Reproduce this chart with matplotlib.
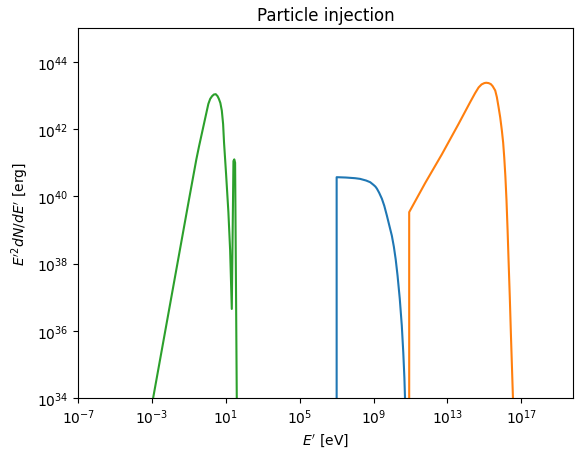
import numpy as np
import matplotlib
matplotlib.use("Agg")
import matplotlib.pyplot as plt

# log10 values
blue_logE = [7.0, 7.0, 7.5, 8.0, 8.27, 8.6, 8.82, 9.0, 9.1, 9.18, 9.3, 9.45, 9.58, 9.72, 9.85, 9.99, 10.1, 10.2, 10.30, 10.42, 10.53, 10.61, 10.67, 10.72]
blue_logY = [30.0, 40.57, 40.56, 40.54, 40.52, 40.47, 40.42, 40.34, 40.29, 40.23, 40.11, 39.93, 39.72, 39.43, 39.14, 38.83, 38.5, 38.12, 37.64, 36.95, 36.15, 35.35, 34.6, 33.7]

orange_logE = [10.93, 10.93, 11.8, 12.7, 13.6, 14.24, 14.5, 14.69, 14.85, 15.0, 15.1, 15.23, 15.35, 15.45, 15.59, 15.68, 15.77, 15.86, 15.95, 16.02, 16.08, 16.14, 16.2, 16.26, 16.31, 16.38, 16.44, 16.51, 16.58]
orange_logY = [30.0, 39.53, 40.4, 41.25, 42.15, 42.81, 43.07, 43.24, 43.33, 43.37, 43.38, 43.37, 43.34, 43.28, 43.15, 42.95, 42.66, 42.35, 41.96, 41.6, 41.15, 40.6, 39.9, 39.0, 38.15, 37.0, 35.9, 34.7, 33.5]

green_logE = [-3.0, -2.0, -1.0, -0.6, -0.45, -0.31, -0.15, 0.05, 0.15, 0.25, 0.35, 0.45, 0.55, 0.62, 0.70, 0.78, 0.85, 0.90, 1.01, 1.136, 1.23, 1.32, 1.41, 1.455, 1.50, 1.59, 1.6]
green_logY = [33.82, 36.86, 39.9, 41.1, 41.5, 41.85, 42.25, 42.75, 42.9, 42.98, 43.03, 43.04, 42.98, 42.9, 42.78, 42.55, 42.15, 41.6, 40.67, 39.53, 38.4, 36.65, 41.05, 41.1, 41.0, 34.0, 33.5]

fig = plt.figure(figsize=(5.84, 4.6), dpi=100)
W, H = 584, 460
left, right, top, bottom = 78.2, 573.3, 29.3, 399.0
ax = fig.add_axes([left / W, (H - bottom) / H, (right - left) / W, (bottom - top) / H])

for le, ly in [(blue_logE, blue_logY), (orange_logE, orange_logY), (green_logE, green_logY)]:
    ax.plot(10.0 ** np.array(le), 10.0 ** np.array(ly))

ax.set_xscale("log")
ax.set_yscale("log")
ax.set_xlim(1e-7, 10 ** 19.82)
ax.set_ylim(1e34, 1e45)
ax.set_xticks([1e-7, 1e-3, 1e1, 1e5, 1e9, 1e13, 1e17])
ax.set_yticks([1e34, 1e36, 1e38, 1e40, 1e42, 1e44])
ax.minorticks_off()
ax.set_title("Particle injection")
ax.set_xlabel(r"$E'$ [eV]")
ax.set_ylabel(r"$E'^2dN/dE'$ [erg]")

fig.savefig("out.png", dpi=100)
